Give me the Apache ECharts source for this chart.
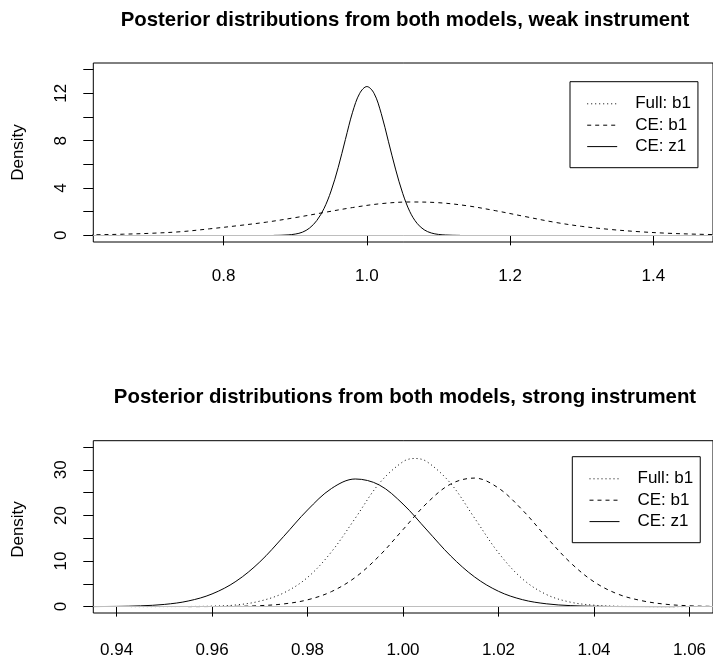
<!DOCTYPE html>
<html><head><meta charset="utf-8">
<script src="https://cdn.jsdelivr.net/npm/echarts@6/dist/echarts.min.js"></script>
<style>html,body{margin:0;padding:0;background:#fff}#c{width:713px;height:659px}</style>
</head><body><div id="c"></div>
<script>
const FONT = '"Liberation Sans", Arial, Helvetica, sans-serif';

// ---------- Titles / names ----------
const titleWeak = 'Posterior distributions from both models, weak instrument';
const titleStrong = 'Posterior distributions from both models, strong instrument';
const yName = 'Density';
const seriesNames = ['Full: b1', 'CE: b1', 'CE: z1'];

// ---------- Top panel: weak instrument ----------
const weakTicksX = [0.8, 1.0, 1.2, 1.4];
const weakTicksY = [0, 2, 4, 6, 8, 10, 12, 14];
const weakLabelsY = [0, 4, 8, 12];
const weakFullB1X = [];
const weakFullB1Y = [];
const weakCEb1X = [0.60,0.62,0.66,0.70,0.74,0.78,0.82,0.86,0.90,0.94,0.98,1.02,1.06,1.10,1.14,1.18,1.22,1.26,1.30,1.34,1.38,1.42,1.46,1.50];
const weakCEb1Y = [0.04,0.05,0.10,0.18,0.31,0.55,0.82,1.12,1.50,1.93,2.35,2.68,2.82,2.76,2.50,2.08,1.60,1.13,0.76,0.50,0.31,0.18,0.10,0.05];
const weakCEz1X = [0.87,0.88,0.89,0.90,0.91,0.92,0.93,0.94,0.95,0.96,0.97,0.98,0.99,1.00,1.01,1.02,1.03,1.04,1.05,1.06,1.07,1.08,1.09,1.10,1.11,1.12,1.13];
const weakCEz1Y = [0.00,0.01,0.04,0.11,0.27,0.62,1.25,2.25,3.75,5.75,8.10,10.40,12.00,12.57,12.00,10.30,7.95,5.60,3.55,2.00,1.02,0.47,0.20,0.08,0.03,0.01,0.00];

// ---------- Bottom panel: strong instrument ----------
const strongTicksX = [0.94, 0.96, 0.98, 1.00, 1.02, 1.04, 1.06];
const strongTicksY = [0, 5, 10, 15, 20, 25, 30, 35];
const strongLabelsY = [0, 10, 20, 30];
const strongFullB1X = [0.943,0.950,0.955,0.960,0.965,0.970,0.975,0.980,0.985,0.990,0.995,1.000,1.0025,1.005,1.010,1.015,1.020,1.025,1.030,1.035,1.040,1.045,1.050,1.055,1.060];
const strongFullB1Y = [0.00,0.01,0.03,0.10,0.36,1.20,3.00,6.40,12.0,19.4,27.0,31.8,32.5,31.8,27.0,19.4,11.8,6.09,2.67,0.99,0.31,0.08,0.02,0.00,0.00];
const strongCEb1X = [0.955,0.960,0.965,0.970,0.975,0.980,0.985,0.990,0.995,1.000,1.005,1.010,1.015,1.020,1.025,1.030,1.035,1.040,1.045,1.050,1.055,1.060,1.065,1.070];
const strongCEb1Y = [0.00,0.02,0.06,0.21,0.59,1.49,3.29,6.42,11.1,16.9,22.7,26.9,28.2,26.0,21.2,15.3,9.71,5.44,2.75,1.30,0.52,0.18,0.05,0.01];
const strongCEz1X = [0.930,0.935,0.940,0.945,0.950,0.955,0.960,0.965,0.970,0.975,0.980,0.985,0.990,0.995,1.000,1.005,1.010,1.015,1.020,1.025,1.030,1.035,1.040,1.045,1.050,1.057];
const strongCEz1Y = [0.00,0.01,0.05,0.17,0.48,1.23,2.78,5.54,9.80,15.4,21.2,25.9,28.0,26.7,22.5,16.8,11.1,6.50,3.36,1.53,0.62,0.22,0.07,0.02,0.01,0.00];

// ---------- Layout ----------
const G1 = {left: 93.3, top: 63, width: 623, height: 179};
const G2 = {left: 93.3, top: 440.7, width: 623, height: 177.6};
const weakRange = {xmin: 0.618, xmax: 0.618 + 623/720, ymin: -0.56, ymax: 14.56};
const strongRange = {xmin: 0.93513, xmax: 0.93513 + 623/4800, ymin: -1.4, ymax: 36.4};

const styles = {
  'Full: b1': {type: [1, 3], color: '#000', width: 1},
  'CE: b1': {type: [4, 4], color: '#000', width: 1},
  'CE: z1': {type: 'solid', color: '#000', width: 1}
};

function zip(xs, ys) { return xs.map((x, i) => [x, ys[i]]); }
function curve(name, xs, ys, gi) {
  return {
    name: name, type: 'line', xAxisIndex: gi, yAxisIndex: gi,
    data: zip(xs, ys), smooth: 0.35, symbol: 'none', showSymbol: false,
    lineStyle: styles[name], itemStyle: {color: '#000'}, z: 3, clip: true,
    silent: true
  };
}
function zeroLine(gi) {
  return {
    name: 'zero', type: 'line', xAxisIndex: gi, yAxisIndex: gi, data: [], z: 2,
    markLine: {silent: true, symbol: 'none', label: {show: false}, animation: false,
      lineStyle: {color: '#bebebe', type: 'solid', width: 1}, data: [{yAxis: 0}]}
  };
}
function xAxis(gi, r, ticks, dec, margin) {
  return {
    type: 'value', gridIndex: gi, min: r.xmin, max: r.xmax,
    axisLine: {show: false}, splitLine: {show: false},
    axisTick: {show: true, length: 10, customValues: ticks, lineStyle: {color: '#000', width: 1}},
    axisLabel: {show: true, customValues: ticks, margin: margin, color: '#000', fontSize: 17, fontFamily: FONT,
      formatter: v => Number(v).toFixed(dec)}
  };
}
function yAxis(gi, r, ticks, labels) {
  return {
    type: 'value', gridIndex: gi, min: r.ymin, max: r.ymax,
    axisLine: {show: false}, splitLine: {show: false},
    axisTick: {show: true, length: 10, customValues: ticks, lineStyle: {color: '#000', width: 1}},
    axisLabel: {show: true, customValues: labels, rotate: 90, margin: 23, color: '#000', fontSize: 17, fontFamily: FONT,
      formatter: v => String(Math.round(v))}
  };
}
function legend(left, top) {
  return {
    show: true, orient: 'vertical', left: left, top: top,
    data: seriesNames, itemWidth: 30, itemHeight: 14, itemGap: 4.4,
    padding: [13.6, 7, 12.6, 16.7], borderColor: '#000', borderWidth: 1, backgroundColor: '#fff',
    itemStyle: {opacity: 0, color: 'transparent', borderWidth: 0},
    lineStyle: {width: 1, color: '#000'},
    textStyle: {color: '#000', fontSize: 17, fontFamily: FONT, padding: [0, 0, 0, 13]},
    selectedMode: false
  };
}
function text(str, x, y, opts) {
  return Object.assign({
    type: 'text', x: x, y: y, silent: true,
    style: Object.assign({text: str, fill: '#000', align: 'center', verticalAlign: 'middle',
      textAlign: 'center', textVerticalAlign: 'middle', font: '17px ' + FONT}, opts && opts.style || {})
  }, opts && opts.el || {});
}

const chart = echarts.init(document.getElementById('c'), null, {renderer: 'canvas'});
chart.setOption({
  animation: false,
  backgroundColor: '#fff',
  grid: [
    Object.assign({show: true, borderColor: '#000', borderWidth: 1, backgroundColor: 'transparent'}, G1),
    Object.assign({show: true, borderColor: '#000', borderWidth: 1, backgroundColor: 'transparent'}, G2)
  ],
  xAxis: [xAxis(0, weakRange, weakTicksX, 1, 26), xAxis(1, strongRange, strongTicksX, 2, 29)],
  yAxis: [yAxis(0, weakRange, weakTicksY, weakLabelsY), yAxis(1, strongRange, strongTicksY, strongLabelsY)],
  legend: [legend(570, 81.7), legend(572.3, 456.7)],
  series: [
    zeroLine(0),
    curve('Full: b1', weakFullB1X, weakFullB1Y, 0),
    curve('CE: b1', weakCEb1X, weakCEb1Y, 0),
    curve('CE: z1', weakCEz1X, weakCEz1Y, 0),
    zeroLine(1),
    curve('Full: b1', strongFullB1X, strongFullB1Y, 1),
    curve('CE: b1', strongCEb1X, strongCEb1Y, 1),
    curve('CE: z1', strongCEz1X, strongCEz1Y, 1)
  ],
  graphic: [
    text(titleWeak, 405, 20, {style: {font: 'bold 20.4px ' + FONT}}),
    text(titleStrong, 405, 397, {style: {font: 'bold 20.4px ' + FONT}}),
    text(yName, 18.5, G1.top + G1.height / 2, {el: {rotation: Math.PI / 2}}),
    text(yName, 18.5, G2.top + G2.height / 2, {el: {rotation: Math.PI / 2}})
  ]
});
</script>
</body></html>
